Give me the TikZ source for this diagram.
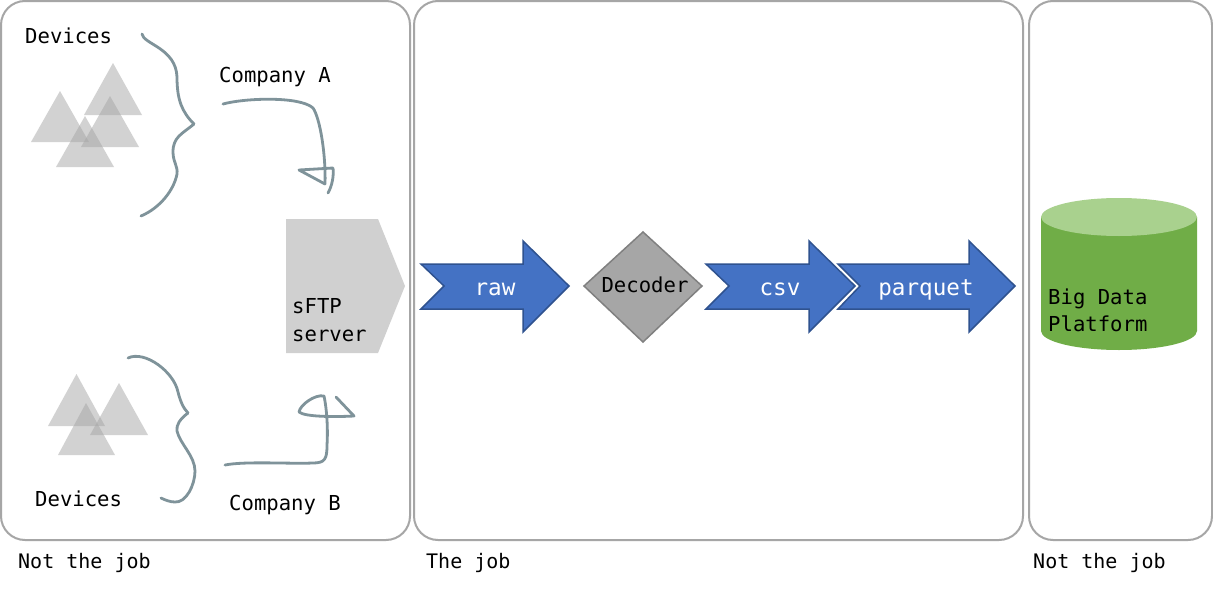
\documentclass[tikz,border=0pt]{standalone}
\usepackage{fontspec}
\setmonofont{DejaVu Sans Mono}
\definecolor{panelline}{HTML}{A6A6A6}
\definecolor{hand}{HTML}{7F939A}
\definecolor{tri}{HTML}{A6A6A6}
\definecolor{srv}{HTML}{D0D0D0}
\definecolor{blueF}{HTML}{4472C4}
\definecolor{blueD}{HTML}{2F528F}
\definecolor{greenB}{HTML}{70AD47}
\definecolor{greenT}{HTML}{A9D18E}
\tikzset{
  panel/.style={draw=panelline,line width=2pt,rounded corners=24pt,fill=white},
  lbl/.style={font=\ttfamily\fontsize{20.6}{28}\selectfont,anchor=base west,inner sep=0pt,text=black},
  foot/.style={font=\ttfamily\fontsize{20}{28}\selectfont,anchor=base west,inner sep=0pt,text=black},
  mid/.style={font=\ttfamily\fontsize{22.6}{28}\selectfont,anchor=base,inner sep=0pt},
  triangle/.style={fill=tri,fill opacity=0.5,draw=none},
  handline/.style={draw=hand,line width=2.8pt,line cap=round,line join=round},
  bluearrow/.style={fill=blueF,draw=blueD,line width=1.5pt,line join=miter}
}
\begin{document}
\begin{tikzpicture}[x=1pt,y=-1pt]
\useasboundingbox (0,0) rectangle (1213,589);
\fill[white] (0,0) rectangle (1213,589);
% panels
\draw[panel] (1,1) rectangle (410,540);
\draw[panel] (414,1) rectangle (1023,540);
\draw[panel] (1029,1) rectangle (1212,540);
% triangles
\fill[triangle] (113,63) -- (142,115) -- (84,115) -- cycle;
\fill[triangle] (60,91) -- (89,142) -- (31,142) -- cycle;
\fill[triangle] (110,96) -- (139,147) -- (81,147) -- cycle;
\fill[triangle] (85,116) -- (114,167) -- (56,167) -- cycle;
\fill[triangle] (76.5,374) -- (105,426) -- (48,426) -- cycle;
\fill[triangle] (119,383) -- (148,435) -- (90,435) -- cycle;
\fill[triangle] (86,403) -- (115,455) -- (58,455) -- cycle;
% braces
\draw[handline] (142,34) .. controls (143,44) and (176,48) .. (177,77) .. controls (177,100) and (182,112) .. (194,124);
\draw[handline] (194,124) .. controls (182,134) and (173,137) .. (173,152) .. controls (173,162) and (178,166) .. (177,174) .. controls (174,190) and (160,208) .. (141,216);
\draw[handline] (128,358) .. controls (145,350) and (174,372) .. (178,392) .. controls (180,400) and (183,408) .. (188,413);
\draw[handline] (188,413) .. controls (180,419) and (176,425) .. (177,431) .. controls (180,444) and (195,456) .. (195,471) .. controls (195,485) and (186,503) .. (175,502) .. controls (170,502) and (165,500) .. (161,498);
% hand arrows
\draw[handline] (223,104) .. controls (245,98) and (300,96) .. (313,108) .. controls (320,118) and (326,155) .. (325,184);
\draw[handline] (325,184) -- (299,170) -- (333,168) .. controls (334,176) and (332,186) .. (328,193);
\draw[handline] (225,465) .. controls (245,461) and (290,464) .. (313,463) .. controls (325,463) and (327,459) .. (327,445) .. controls (328,430) and (327,410) .. (324,396) .. controls (315,394) and (300,405) .. (299,412) .. controls (305,417) and (335,417) .. (354,416) -- (336,397);
% sFTP server
\fill[srv] (286,219) -- (378,219) -- (405,286) -- (378,353) -- (286,353) -- cycle;
\node[lbl] (sftp1) at (292,313) {sFTP};
\node[lbl] (sftp2) at (292,341) {server};
% blue arrows
\draw[bluearrow] (421,264) -- (523,264) -- (523,241) -- (569,286) -- (523,332) -- (523,309) -- (421,309) -- (444,286) -- cycle;
\draw[fill=panelline,draw=black!50,line width=1.5pt] (643,232) -- (702,286) -- (643,342) -- (584,286) -- cycle;
\draw[bluearrow] (706,264) -- (809,264) -- (809,241) -- (855,286) -- (809,332) -- (809,309) -- (706,309) -- (729,286) -- cycle;
\draw[bluearrow] (838,264) -- (969,264) -- (969,241) -- (1015,286) -- (969,332) -- (969,309) -- (838,309) -- (860,286) -- cycle;
\node[mid,text=white] (raw) at (495,295) {raw};
\node[lbl,anchor=base,text=black] (decoder) at (645,292) {Decoder};
\node[mid,text=white] (csv) at (780,295) {csv};
\node[mid,text=white] (parquet) at (926,295) {parquet};
% cylinder
\fill[greenB] (1041,217) -- (1041,331) arc[start angle=180,end angle=360,x radius=78,y radius=-19] -- (1197,217) -- cycle;
\fill[greenT] (1119,217) ellipse[x radius=78,y radius=19];
\node[lbl] (big1) at (1048,304) {Big Data};
\node[lbl] (big2) at (1048,331) {Platform};
% labels
\node[lbl] (dev1) at (25,43) {Devices};
\node[lbl] (compa) at (219,82) {Company A};
\node[lbl] (dev2) at (35,506) {Devices};
\node[lbl] (compb) at (229,510) {Company B};
\node[foot] (no1) at (18,568) {Not the job};
\node[foot] (job) at (426,568) {The job};
\node[foot] (no2) at (1033,568) {Not the job};
\end{tikzpicture}
\end{document}
